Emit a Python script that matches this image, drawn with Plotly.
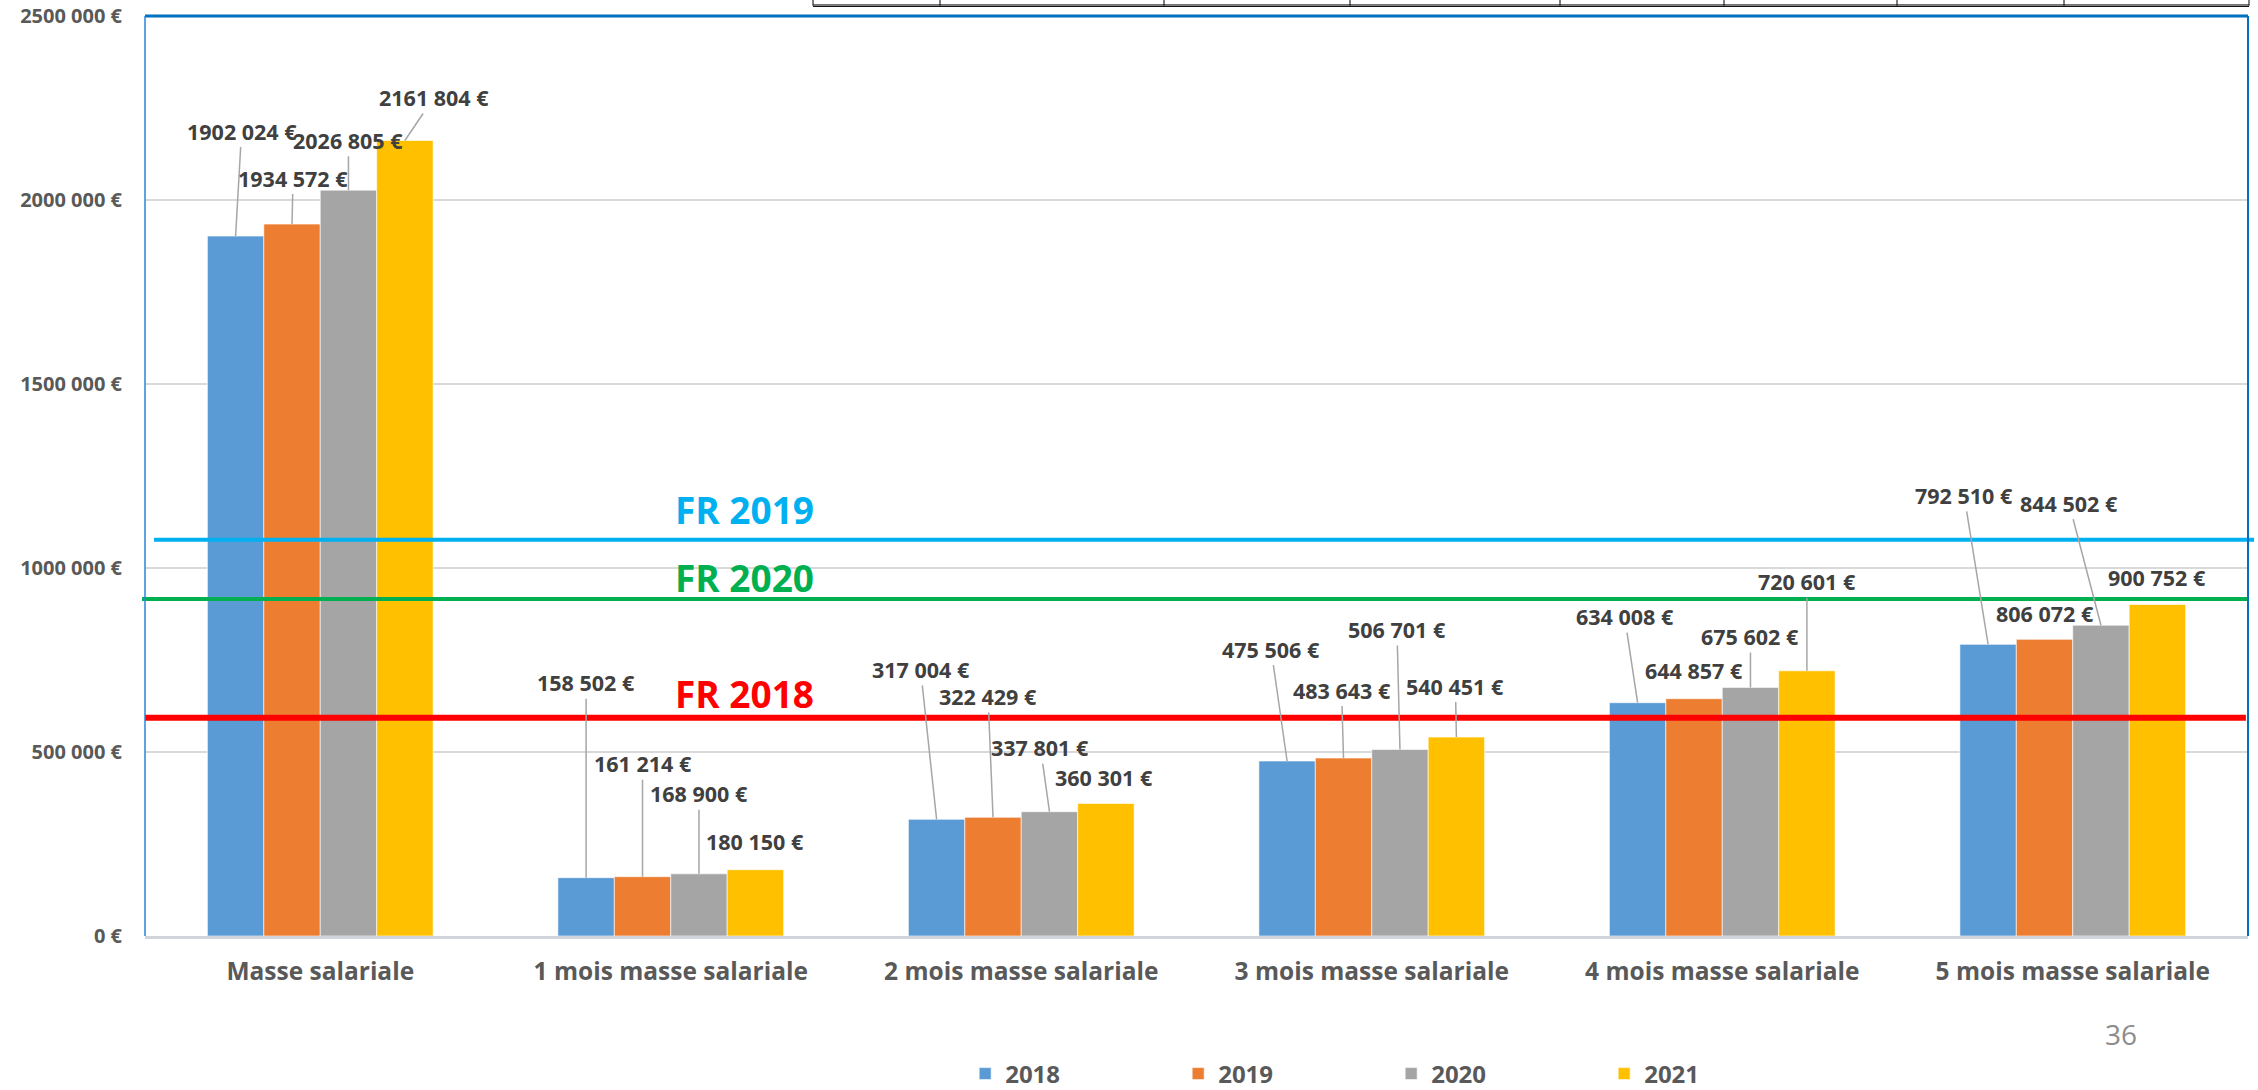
import plotly.graph_objects as go

# ---------------- data ----------------
categories = ["Masse salariale", "1 mois masse salariale", "2 mois masse salariale",
              "3 mois masse salariale", "4 mois masse salariale", "5 mois masse salariale"]
years = ["2018", "2019", "2020", "2021"]
values_2018 = [1902024, 158502, 317004, 475506, 634008, 792510]
values_2019 = [1934572, 161214, 322429, 483643, 644857, 806072]
values_2020 = [2026805, 168900, 337801, 506701, 675602, 844502]
values_2021 = [2161804, 180150, 360301, 540451, 720601, 900752]
ref_labels = ["FR 2019", "FR 2020", "FR 2018"]
ref_values = [1077000, 916000, 593000]
y_ticks = [0, 500000, 1000000, 1500000, 2000000, 2500000]
page_number = "36"

# ---------------- styles ----------------
series_values = [values_2018, values_2019, values_2020, values_2021]
colors = ["#5B9BD5", "#ED7D31", "#A5A5A5", "#FFC000"]
ref_colors = ["#00B0F0", "#00B050", "#FF0000"]
ref_widths = [4, 4, 6]
ref_x0 = [0.0043, -0.0014, 0.0]
ref_x1 = [1.0029, 1.0, 0.999]
ref_yshift = [30, 21, 24]

# label offsets (px) relative to bar top: (dx, dy, leader)
label_offsets = [
    [(6, -105, 1), (0, -195, 1), (-16, -150, 1), (-16, -112, 1), (-13, -86, 1), (-24, -149, 1)],
    [(1, -46, 1), (0, -113, 1), (-5, -121, 1), (-2, -68, 1), (0, -28, 0), (0, -26, 0)],
    [(0, -50, 1), (0, -80, 1), (-9, -64, 1), (-3, -120, 1), (0, -51, 1), (-32, -122, 1)],
    [(29, -43, 1), (0, -28, 0), (-2, -26, 0), (-1, -51, 1), (0, -89, 1), (0, -27, 0)],
]

FONT = "Open Sans"
bargap = 0.356


def fmt(v):
    s = str(int(v))
    if len(s) > 3:
        s = s[:-3] + " " + s[-3:]
    return s + " €"


fig = go.Figure()
for name, vals, col in zip(years, series_values, colors):
    fig.add_trace(go.Bar(
        x=categories, y=vals, name=name,
        marker=dict(color=col, line=dict(color="rgba(255,255,255,0.6)", width=1)),
    ))

annotations = []
bw = (1 - bargap) / len(years)
for j, (vals, offs) in enumerate(zip(series_values, label_offsets)):
    for i, (v, (dx, dy, leader)) in enumerate(zip(vals, offs)):
        annotations.append(dict(
            x=i + (j - 1.5) * bw, y=v, xref="x", yref="y",
            text=fmt(v), showarrow=True, ax=dx, ay=dy,
            arrowhead=0, arrowwidth=1.5, standoff=0,
            arrowcolor="#A6A6A6" if leader else "rgba(0,0,0,0)",
            font=dict(family=FONT, size=21.5, color="#404040", weight="bold"),
        ))

shapes = []
for val, col, w, x0, x1 in zip(ref_values, ref_colors, ref_widths, ref_x0, ref_x1):
    shapes.append(dict(type="line", xref="paper", yref="y", x0=x0, x1=x1, y0=val, y1=val,
                       line=dict(color=col, width=w), layer="above"))
for lab, val, col, ys in zip(ref_labels, ref_values, ref_colors, ref_yshift):
    annotations.append(dict(x=0.2853, y=val, xref="paper", yref="y", yshift=ys,
                            text=lab, showarrow=False, xanchor="center", yanchor="middle",
                            font=dict(family=FONT, size=37, color=col, weight="bold")))

# frame of the chart area
shapes.append(dict(type="line", xref="paper", yref="paper", x0=0, x1=1, y0=1, y1=1,
                   line=dict(color="#0070C0", width=3), layer="above"))
shapes.append(dict(type="line", xref="paper", yref="paper", x0=0, x1=0, y0=0, y1=1,
                   line=dict(color="#2A84D8", width=1.5), layer="above"))
shapes.append(dict(type="line", xref="paper", yref="paper", x0=1, x1=1, y0=0, y1=1,
                   line=dict(color="#0070C0", width=2), layer="above"))

# fragment of a table above the chart
tx = [813, 940, 1164, 1350, 1560, 1724, 1897, 2064, 2249]
tpx = [(t - 145) / 2103 for t in tx]
for p in tpx:
    shapes.append(dict(type="line", xref="paper", yref="paper", x0=p, x1=p, y0=1.0174, y1=1.0112,
                       line=dict(color="#000000", width=1)))
for yy in (1.0120, 1.0104):
    shapes.append(dict(type="line", xref="paper", yref="paper", x0=tpx[0], x1=tpx[-1], y0=yy, y1=yy,
                       line=dict(color="#000000", width=1)))

annotations.append(dict(x=0.9396, y=-0.1065, xref="paper", yref="paper", text=page_number,
                        showarrow=False, xanchor="center", yanchor="middle",
                        font=dict(family=FONT, size=28, color="#8C8C8C")))

fig.update_layout(
    width=2258, height=1090,
    margin=dict(l=145, r=10, t=16, b=154, autoexpand=False),
    paper_bgcolor="white", plot_bgcolor="white",
    barmode="group", bargap=bargap, bargroupgap=0,
    font=dict(family=FONT, color="#595959"),
    xaxis=dict(showgrid=False, showline=True, linecolor="#D0D5DB", linewidth=3,
               ticks="", ticklabelstandoff=12, automargin=False,
               tickfont=dict(family=FONT, size=24.5, color="#595959", weight="bold")),
    yaxis=dict(range=[0, 2500000], tickvals=y_ticks, ticktext=[fmt(t) for t in y_ticks],
               showgrid=True, gridcolor="#D9D9D9", gridwidth=2, zeroline=False,
               showline=False, ticks="", ticklabelstandoff=22, automargin=False,
               tickfont=dict(family=FONT, size=20, color="#595959", weight="bold")),
    legend=dict(orientation="h", x=0.390, xanchor="left", y=-0.150, yanchor="middle",
                entrywidth=168, entrywidthmode="pixels",
                font=dict(family=FONT, size=24, color="#595959", weight="bold")),
    shapes=shapes, annotations=annotations,
)

# remove the default page margin so the figure fills the window from its corner
fig.write_html("out.html", config={"displayModeBar": False},
               post_script="document.body.style.margin='0px';")
